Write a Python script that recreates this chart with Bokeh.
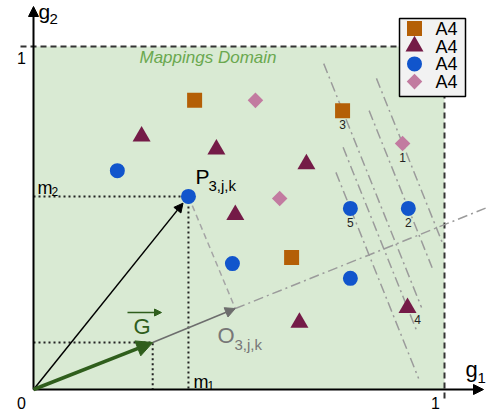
import math
from bokeh.plotting import figure
from bokeh.models import Range1d, Arrow, NormalHead, Label
from bokeh.embed import file_html
from bokeh.resources import INLINE

# ---------------- data ----------------
sq_x = [0.392, 0.752, 0.628]
sq_y = [0.843, 0.813, 0.385]
tri_x = [0.263, 0.445, 0.664, 0.491, 0.647, 0.910]
tri_y = [0.738, 0.700, 0.657, 0.509, 0.195, 0.238]
circ_x = [0.204, 0.377, 0.484, 0.771, 0.912, 0.771]
circ_y = [0.638, 0.563, 0.367, 0.528, 0.528, 0.324]
dia_x = [0.540, 0.898, 0.599]
dia_y = [0.843, 0.717, 0.557]
legend_labels = ["A4", "A4", "A4", "A4"]

g_vec = [0.290, 0.137]     # G vector tip
o_proj = [0.491, 0.236]    # projection O_{3,j,k}
p_point = [circ_x[1], circ_y[1]]  # P_{3,j,k}

num_labels = ["1", "2", "3", "4", "5"]
num_x = [dia_x[1], circ_x[4], sq_x[1], tri_x[5], circ_x[3]]
num_y = [dia_y[1], circ_y[4], sq_y[1], tri_y[5], circ_y[3]]
perp_y_top = [0.907, 0.813, 0.950, 0.706, 0.633]
perp_y_bot = [0.420, 0.355, 0.239, 0.166, 0.032]

# ---------------- layout ----------------
W, H = 487, 416
X0, X1 = -33 / 411, (487 - 33) / 411
Y0, Y1 = (389 - 416) / 343, 389 / 343
FONT = "Liberation Sans"
sxu = W / (X1 - X0)   # px per x unit
syu = H / (Y1 - Y0)   # px per y unit


def dx(px):
    return X0 + px / W * (X1 - X0)


def dy(py):
    return Y1 - py / H * (Y1 - Y0)


p = figure(width=W, height=H, x_range=Range1d(X0, X1), y_range=Range1d(Y0, Y1),
           output_backend="svg", toolbar_location=None, min_border=0,
           x_axis_type=None, y_axis_type=None, outline_line_color=None)
p.xgrid.visible = False
p.ygrid.visible = False

# domain
p.quad(left=[0], right=[1], bottom=[0], top=[1], fill_color="#d9ead3", line_color=None)
p.line([dx(20), 1, 1], [1, 1, dy(398)], line_dash="6 4", line_width=2, line_color="#333333")

# perpendicular (screen space) lines through numbered points
k = (o_proj[1] / o_proj[0]) * (syu ** 2) / (sxu ** 2)
px0 = [nx - k * (yt - ny) for nx, ny, yt in zip(num_x, num_y, perp_y_top)]
px1 = [nx - k * (yb - ny) for nx, ny, yb in zip(num_x, num_y, perp_y_bot)]
p.segment(px0, perp_y_top, px1, perp_y_bot, line_dash="10 4 2 4", line_color="#9b9b9b", line_width=1.5)

# projection axis line
ext = 1.10 / o_proj[0]
p.line([o_proj[0], o_proj[0] * ext], [o_proj[1], o_proj[1] * ext],
       line_dash="10 4 2 4", line_color="#9b9b9b", line_width=1.5)
# P -> O dashed
p.line([p_point[0], o_proj[0]], [p_point[1], o_proj[1]], line_dash="6 4",
       line_color="#a5a5a5", line_width=1.5)

# dotted guides
p.line([0, p_point[0], p_point[0]], [p_point[1], p_point[1], 0], line_dash="2 3",
       line_color="#222222", line_width=2)
p.line([0, g_vec[0], g_vec[0]], [g_vec[1], g_vec[1], 0], line_dash="2 3",
       line_color="#222222", line_width=2)

# markers
styles = [
    dict(marker="square", size=15, color="#b45f06", angle=0),
    dict(marker="triangle", size=18, color="#741b47", angle=0),
    dict(marker="circle", size=15, color="#1155cc", angle=0),
    dict(marker="square", size=11, color="#c27ba0", angle=math.pi / 4),
]
series = [(sq_x, sq_y), (tri_x, tri_y), (circ_x, circ_y), (dia_x, dia_y)]
for (xs, ys), st in zip(series, styles):
    p.scatter(xs, ys, marker=st["marker"], size=st["size"], fill_color=st["color"],
              line_color=None, angle=st["angle"])

# number labels
for lab, nx, ny in zip(num_labels, num_x, num_y):
    xo, yo = (10, -12) if lab == "4" else (0, -14)
    p.add_layout(Label(x=nx, y=ny, text=lab, x_offset=xo, y_offset=yo, text_font=FONT,
                       text_font_size="12px", text_align="center", text_baseline="middle",
                       text_color="#222222"))

# arrows
p.add_layout(Arrow(x_start=0, y_start=0, x_end=0, y_end=dy(6), line_width=2, line_color="black",
                   end=NormalHead(size=10, fill_color="black", line_color="black")))
p.add_layout(Arrow(x_start=0, y_start=0, x_end=dx(483), y_end=0, line_width=2, line_color="black",
                   end=NormalHead(size=10, fill_color="black", line_color="black")))
p.add_layout(Arrow(x_start=0, y_start=0, x_end=p_point[0] * 0.965, y_end=p_point[1] * 0.965,
                   line_width=1.5, line_color="black",
                   end=NormalHead(size=9, fill_color="black", line_color="black")))
p.add_layout(Arrow(x_start=g_vec[0], y_start=g_vec[1], x_end=o_proj[0], y_end=o_proj[1],
                   line_width=1.5, line_color="#6d6d6d",
                   end=NormalHead(size=10, fill_color="#6d6d6d", line_color="#6d6d6d")))
GREEN = "#2f5e1c"
p.add_layout(Arrow(x_start=0, y_start=0, x_end=g_vec[0], y_end=g_vec[1],
                   line_width=3.5, line_color=GREEN,
                   end=NormalHead(size=16, fill_color=GREEN, line_color=GREEN)))
p.add_layout(Arrow(x_start=dx(127), y_start=dy(312), x_end=dx(161), y_end=dy(312),
                   line_width=1.5, line_color=GREEN,
                   end=NormalHead(size=7, fill_color=GREEN, line_color=GREEN)))


def txt(px, baseline, s, size, color="black", align="left", style="normal"):
    # position given by the text baseline; placed with a "middle" anchor
    p.add_layout(Label(x=dx(px), y=dy(baseline - 0.33 * size), text=s, text_font=FONT,
                       text_font_size=f"{size}px", text_color=color, text_align=align,
                       text_baseline="middle", text_font_style=style))


txt(38, 18, "g", 21)
txt(49, 23, "2", 15)
txt(465, 376, "g", 22)
txt(477, 382, "1", 15)
txt(21, 63, "1", 16, align="center")
txt(21, 408, "0", 16, align="center")
txt(435, 408, "1", 16, align="center")
txt(139, 63, "Mappings Domain", 17, color="#6aa84f", style="italic")
txt(195, 183, "P", 21)
txt(208, 190, "3,j,k", 15)
txt(133, 333, "G", 22, color=GREEN)
txt(217, 342, "O", 22, color="#777777")
txt(234, 349, "3,j,k", 15, color="#777777")
txt(37, 193, "m", 18)
txt(51, 195, "2", 12)
txt(193, 387, "m", 18)
txt(207, 389, "1", 12)

# legend (drawn manually so markers keep their size)
p.rect(x=[dx(432)], y=[dy(57)], width=66, height=78, width_units="screen", height_units="screen",
       fill_color="#f2f2f2", line_color="black", line_width=1.5)
for i, (st, lab) in enumerate(zip(styles, legend_labels)):
    ry = 28 + 17.7 * i
    p.scatter([dx(414)], [dy(ry)], marker=st["marker"], size=st["size"], fill_color=st["color"],
              line_color=None, angle=st["angle"])
    txt(435, ry + 6.5, lab, 18)

open("out.html", "w").write(file_html(p, INLINE))
